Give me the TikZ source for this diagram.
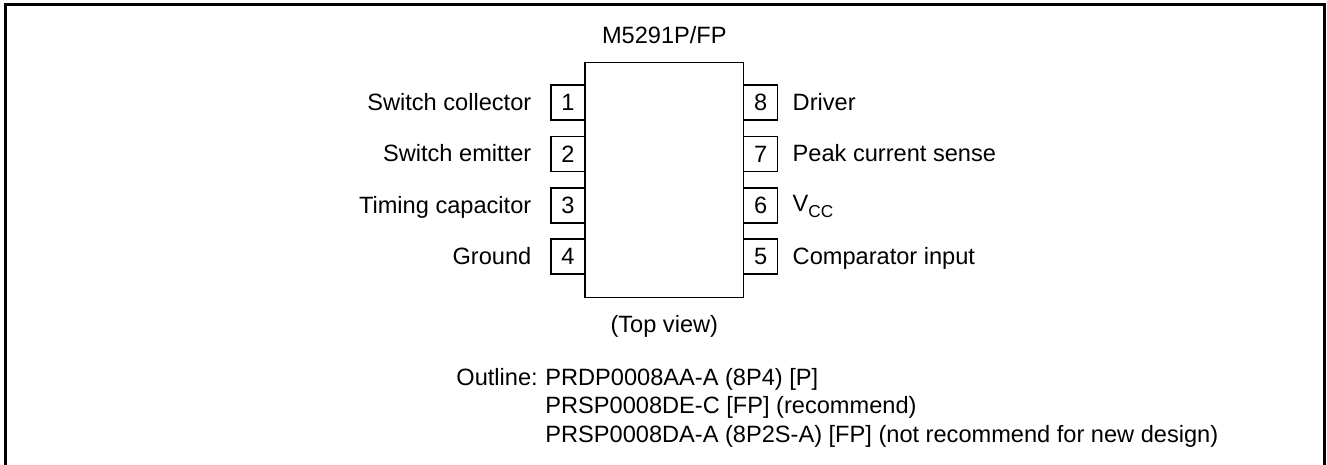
\documentclass[tikz,border=0pt]{standalone}
\usepackage{fontspec}
\setmainfont{Liberation Sans}
\begin{document}
\begin{tikzpicture}[x=0.5pt, y=-0.5pt, font=\fontsize{11.8}{14}\selectfont,
		pinbox/.style={draw, line width=0.7pt, minimum width=17pt, minimum height=17.5pt, inner sep=0pt},
		lefttext/.style={anchor=base east, inner sep=0pt},
		righttext/.style={anchor=base west, inner sep=0pt}]
				\useasboundingbox (0,0) rectangle (1327,465);
				
				% Rahmen
				\draw[line width=1.5pt] (5,470) -- (5,5) -- (1324.5,5) -- (1324.5,470);
				
				% Gehaeuse
				\draw (664.3,180.2) node[draw, line width=0.7pt, minimum width=79.4pt, minimum height=117.5pt] (chip) {};
				\draw (664.3,44) node[anchor=base] (type) {M5291P/FP};
				\draw (664.3,332) node[anchor=base] (view) {(Top view)};
				
				% Pins links
				\draw (568,102.5) node[pinbox] (pin1) {1};
				\draw (568,154) node[pinbox] (pin2) {2};
				\draw (568,205.5) node[pinbox] (pin3) {3};
				\draw (568,256.5) node[pinbox] (pin4) {4};
				
				% Pins rechts
				\draw (760.7,102.5) node[pinbox] (pin8) {8};
				\draw (760.7,154) node[pinbox] (pin7) {7};
				\draw (760.7,205.5) node[pinbox] (pin6) {6};
				\draw (760.7,256.5) node[pinbox] (pin5) {5};
				
				% Beschriftung links
				\draw (531.7,110.5) node[lefttext] (sc) {Switch collector};
				\draw (531.7,162) node[lefttext] (se) {Switch emitter};
				\draw (531.7,213.5) node[lefttext] (tc) {Timing capacitor};
				\draw (531.7,264.5) node[lefttext] (gnd) {Ground};
				
				% Beschriftung rechts
				\draw (792.3,110.5) node[righttext] (drv) {Driver};
				\draw (792.3,162) node[righttext] (pcs) {Peak current sense};
				\draw (792.3,211.5) node[righttext] (vcc) {V\raisebox{-3.1pt}{\fontsize{8.6}{10}\selectfont CC}};
				\draw (792.3,264.5) node[righttext] (cmp) {Comparator input};
				
				% Gehaeusevarianten
				\draw (456,385) node[anchor=base west, inner sep=0pt] (outline) {Outline:};
				\draw (545,413.5) node[anchor=base west, inner sep=0pt] (pkg2) {PRSP0008DE-C [FP] (recommend)};
				\draw (545,385) node[anchor=base west, inner sep=0pt] (pkg1) {PRDP0008AA-A (8P4) [P]};
				\draw (545,442) node[anchor=base west, inner sep=0pt] (pkg3) {PRSP0008DA-A (8P2S-A) [FP] (not recommend for new design)};
			\end{tikzpicture}
\end{document}
